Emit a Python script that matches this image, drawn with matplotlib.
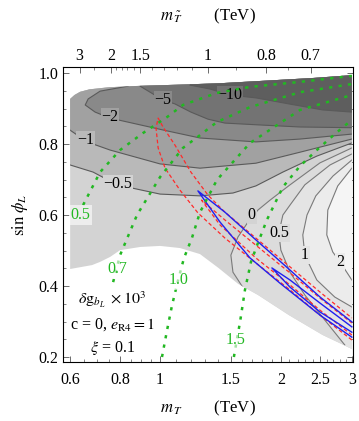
import numpy as np
import matplotlib
matplotlib.use("Agg")
import matplotlib.pyplot as plt
from matplotlib.patches import Polygon
from matplotlib.ticker import NullFormatter, FixedLocator, FixedFormatter

plt.rcParams['font.family'] = ['Liberation Serif', 'DejaVu Serif']
plt.rcParams['mathtext.fontset'] = 'stix'

# ---- data (m_T in TeV, sin phi_L) ----
# domain of the scan (outside is white)
top_m = [0.6, 0.615, 0.635, 0.67, 0.75, 0.9, 1.1, 1.4, 1.8, 2.4, 3.0]
top_s = [0.927, 0.938, 0.947, 0.954, 0.960, 0.964, 0.967, 0.971, 0.978, 0.986, 0.994]
bot_m = [0.6, 0.68, 0.712, 0.754, 0.798, 0.895, 1.003, 1.124, 1.26, 1.40, 1.567, 1.754, 2.095, 2.54, 3.0]
bot_s = [0.448, 0.459, 0.468, 0.482, 0.501, 0.510, 0.513, 0.507, 0.490, 0.451, 0.406, 0.375, 0.318, 0.262, 0.223]

# contours of delta g_bL x 10^3
cm10_m = [1.19, 1.334, 1.496, 1.734, 2.094, 2.541, 3.0]
cm10_s = [0.966, 0.955, 0.938, 0.930, 0.913, 0.896, 0.890]
cm5_m = [0.895, 1.020, 1.092, 1.196, 1.319, 1.453, 1.754, 2.231, 3.0]
cm5_s = [0.963, 0.924, 0.913, 0.890, 0.870, 0.859, 0.854, 0.848, 0.846]
cm2_m = [0.835, 0.712, 0.665, 0.654, 0.692, 0.754, 0.895, 1.044, 1.260, 1.734, 2.231, 3.0]
cm2_s = [0.963, 0.949, 0.927, 0.910, 0.890, 0.873, 0.854, 0.837, 0.817, 0.806, 0.814, 0.828]
cm1_m = [0.6, 0.661, 0.754, 1.003, 1.260, 1.734, 2.231, 3.0]
cm1_s = [0.839, 0.806, 0.783, 0.744, 0.732, 0.746, 0.777, 0.814]
cm05_m = [0.6, 0.684, 0.785, 1.003, 1.260, 1.521, 1.734, 2.023, 2.456, 3.0]
cm05_s = [0.741, 0.721, 0.685, 0.659, 0.654, 0.662, 0.682, 0.721, 0.766, 0.803]
c0_m = [3.0, 2.501, 2.107, 1.880, 1.754, 1.657, 1.565, 1.503, 1.521, 1.638]
c0_s = [0.789, 0.747, 0.685, 0.642, 0.614, 0.580, 0.538, 0.487, 0.439, 0.383]
c05_m = [3.0, 2.648, 2.293, 2.107, 2.023, 1.977, 2.0, 2.107, 2.293, 2.571, 2.881]
c05_s = [0.772, 0.741, 0.685, 0.628, 0.600, 0.549, 0.501, 0.439, 0.375, 0.304, 0.234]
c1_m = [3.0, 2.694, 2.442, 2.322, 2.267, 2.293, 2.456, 2.721, 3.0]
c1_s = [0.755, 0.710, 0.654, 0.600, 0.544, 0.487, 0.417, 0.369, 0.341]
c2_m = [3.0, 2.768, 2.615, 2.600, 2.690, 2.803, 2.914, 3.0]
c2_s = [0.732, 0.682, 0.614, 0.544, 0.496, 0.468, 0.439, 0.417]

neg_levels = ['-0.5', '-1', '-2', '-5', '-10']
pos_levels = ['0', '0.5', '1', '2']
label_m = {'-10': 1.496, '-5': 1.02, '-2': 0.754, '-1': 0.654, '-0.5': 0.789,
           '0': 1.694, '0.5': 1.977, '1': 2.293, '2': 2.803}
label_s = {'-10': 0.938, '-5': 0.924, '-2': 0.876, '-1': 0.811, '-0.5': 0.687,
           '0': 0.600, '0.5': 0.549, '1': 0.487, '2': 0.468}

# green dotted curves
g05_m = [0.646, 0.712, 0.798, 0.910, 1.044, 1.143, 1.388, 1.677, 2.231, 3.0]
g05_s = [0.628, 0.721, 0.783, 0.831, 0.876, 0.910, 0.944, 0.961, 0.975, 0.992]
g07_m = [0.767, 0.798, 0.879, 1.003, 1.143, 1.260, 1.388, 1.677, 2.231, 3.0]
g07_s = [0.411, 0.487, 0.600, 0.707, 0.789, 0.825, 0.862, 0.904, 0.946, 0.969]
g10_m = [1.014, 1.044, 1.074, 1.112, 1.150, 1.203, 1.260, 1.388, 1.677, 2.231, 3.0]
g10_s = [0.200, 0.276, 0.346, 0.417, 0.479, 0.535, 0.608, 0.699, 0.803, 0.896, 0.938]
g15_m = [1.529, 1.555, 1.584, 1.629, 1.686, 1.754, 1.846, 2.023, 2.231, 2.456, 2.721, 3.0]
g15_s = [0.200, 0.248, 0.299, 0.389, 0.468, 0.521, 0.586, 0.679, 0.738, 0.783, 0.828, 0.868]
green_labels = ['0.5', '0.7', '1.0', '1.5']
green_lab_m = [0.635, 0.785, 1.112, 1.547]
green_lab_s = [0.600, 0.448, 0.417, 0.248]

# red dashed and blue solid regions
red1_m = [3.0, 2.501, 2.107, 1.734, 1.453, 1.245, 1.124, 1.032, 0.992, 0.980, 0.992,
          1.020, 1.092, 1.196, 1.319, 1.453, 1.734, 2.107, 2.501, 3.0]
red1_s = [0.248, 0.318, 0.389, 0.465, 0.535, 0.606, 0.670, 0.732, 0.789, 0.845, 0.873,
          0.848, 0.797, 0.721, 0.656, 0.608, 0.535, 0.454, 0.383, 0.310]
red2_m = [3.0, 2.501, 2.107, 1.734, 1.413, 1.271, 1.453, 1.734, 2.107, 2.501, 3.0]
red2_s = [0.262, 0.332, 0.403, 0.479, 0.572, 0.642, 0.586, 0.515, 0.437, 0.366, 0.296]
blue1_m = [3.0, 2.501, 1.990, 1.677, 1.413, 1.245, 1.453, 1.734, 2.107, 2.501, 3.0]
blue1_s = [0.256, 0.318, 0.408, 0.479, 0.580, 0.668, 0.608, 0.530, 0.445, 0.369, 0.299]
blue2_m = [3.0, 2.501, 2.107, 1.900, 2.107, 2.501, 3.0]
blue2_s = [0.270, 0.327, 0.397, 0.451, 0.417, 0.352, 0.285]

# axes ticks
x_ticks = [0.6, 0.8, 1, 1.5, 2, 2.5, 3]
x_ticklabels = ['0.6', '0.8', '1', '1.5', '2', '2.5', '3']
top_vals = [3, 2, 1.5, 1, 0.8, 0.7]
top_pos = [0.633, 0.758, 0.895, 1.319, 1.840, 2.37]
top_minor_vals = [2.5, 1.9, 1.8, 1.7, 1.6, 1.4, 1.3, 1.2, 1.1, 0.9, 0.75]

# ---- colours ----
band_base = '#d3d3d3'
neg_colors = ['#b9b9b9', '#a1a1a1', '#898989', '#737373', '#5e5e5e']
pos_colors = ['#dcdcdc', '#e4e4e4', '#ececec', '#f5f5f5']
green = '#22b822'

fig = plt.figure(figsize=(3.59, 4.21), dpi=100)
ax = fig.add_axes([63 / 359, 59 / 421, 290 / 359, 295 / 421])
ax.set_xscale('log')
ax.set_xlim(0.576, 3.02)
ax.set_ylim(0.186, 1.017)

dom = Polygon(list(zip(top_m, top_s)) + list(zip(bot_m[::-1], bot_s[::-1])),
              closed=True, transform=ax.transData)
ax.fill(top_m + bot_m[::-1], top_s + bot_s[::-1], color=band_base, lw=0, zorder=1)

neg = [(cm05_m, cm05_s), (cm1_m, cm1_s), (cm2_m, cm2_s), (cm5_m, cm5_s), (cm10_m, cm10_s)]
pos = [(c0_m, c0_s), (c05_m, c05_s), (c1_m, c1_s), (c2_m, c2_s)]

for (cm, cs), col in zip(neg, neg_colors):
    x0 = cm[0] if cm[0] > 0.61 else 0.5
    px = list(cm) + [3.4, 3.4, x0, x0]
    py = list(cs) + [cs[-1], 1.2, 1.2, cs[0]]
    p, = ax.fill(px, py, color=col, lw=0, zorder=2)
    p.set_clip_path(dom)

for (cm, cs), col in zip(pos, pos_colors):
    if cm[-1] < 2.9:
        px = list(cm) + [cm[-1], 3.4, 3.4]
        py = list(cs) + [0.1, 0.1, cs[0]]
    else:
        px = list(cm) + [3.4, 3.4]
        py = list(cs) + [cs[-1], cs[0]]
    p, = ax.fill(px, py, color=col, lw=0, zorder=2)
    p.set_clip_path(dom)

for cm, cs in neg:
    ln, = ax.plot(cm, cs, color='#5a5a5a', lw=0.8, zorder=3)
    ln.set_clip_path(dom)
for cm, cs in pos:
    ln, = ax.plot(cm, cs, color='#7a7a7a', lw=0.8, zorder=3)
    ln.set_clip_path(dom)

lab_bg = {'-10': neg_colors[3], '-5': neg_colors[2], '-2': neg_colors[1], '-1': neg_colors[0],
          '-0.5': band_base, '0': band_base, '0.5': pos_colors[0], '1': pos_colors[1],
          '2': pos_colors[2]}
for k in neg_levels + pos_levels:
    ax.text(label_m[k], label_s[k], k.replace('-', '\u2212'), fontsize=11.5,
            ha='center', va='center', zorder=4,
            bbox=dict(boxstyle='square,pad=0.05', fc=lab_bg[k], ec='none'))

for cm, cs in [(red1_m, red1_s), (red2_m, red2_s)]:
    ax.plot(cm, cs, color='#ff2a2a', lw=0.9, ls=(0, (3, 2)), zorder=5)
for cm, cs in [(blue1_m, blue1_s), (blue2_m, blue2_s)]:
    ax.plot(cm, cs, color='#2020f0', lw=1.0, zorder=5)

for cm, cs in [(g05_m, g05_s), (g07_m, g07_s), (g10_m, g10_s), (g15_m, g15_s)]:
    ax.plot(cm, cs, color=green, lw=1.8, ls=(0, (1.3, 2.5)), zorder=6)
for t, xm, ys in zip(green_labels, green_lab_m, green_lab_s):
    ax.text(xm, ys, t, color=green, fontsize=11.5, ha='center', va='center', zorder=7,
            bbox=dict(boxstyle='square,pad=0.1', fc='white', ec='none', alpha=0.6))

ax.text(0.765, 0.361, r'$\delta\mathrm{g}_{b_L}\ \times 10^3$', fontsize=11.5, ha='center', va='center')
ax.text(0.765, 0.290, r'c = 0, $e_{\mathrm{R4}} = 1$', fontsize=11.5, ha='center', va='center')
ax.text(0.765, 0.226, r'$\xi$ = 0.1', fontsize=11.5, ha='center', va='center')

# axes styling
minor_x = [v for v in np.round(np.concatenate([np.arange(0.6, 1.0, 0.05), np.arange(1.0, 3.01, 0.1)]), 2)
           if v not in x_ticks]
ax.xaxis.set_major_locator(FixedLocator(x_ticks))
ax.xaxis.set_major_formatter(FixedFormatter(x_ticklabels))
ax.xaxis.set_minor_locator(FixedLocator(minor_x))
ax.xaxis.set_minor_formatter(NullFormatter())
ax.set_yticks([0.2, 0.4, 0.6, 0.8, 1.0])
ax.set_yticklabels(['0.2', '0.4', '0.6', '0.8', '1.0'])
ax.set_yticks(np.arange(0.2, 1.01, 0.05), minor=True)
ax.tick_params(which='both', direction='in', top=False, right=True, labelsize=11.5,
               color='#555555')
ax.tick_params(which='major', length=4.5, width=0.6)
ax.tick_params(which='minor', length=2.5, width=0.5)
ax.tick_params(axis='x', pad=7)
for sp in ax.spines.values():
    sp.set_color('#555555')
    sp.set_linewidth(0.7)

ax2 = ax.twiny()
ax2.set_xscale('log')
ax2.set_xlim(ax.get_xlim())
lp = np.log(top_pos)
lv = np.log(top_vals)
ax2.xaxis.set_major_locator(FixedLocator(top_pos))
ax2.xaxis.set_major_formatter(FixedFormatter([str(v) for v in top_vals]))
ax2.xaxis.set_minor_locator(FixedLocator(np.exp(np.interp(-np.log(top_minor_vals), -lv, lp))))
ax2.xaxis.set_minor_formatter(NullFormatter())
ax2.tick_params(which='both', direction='in', labelsize=11.5, color='#555555', pad=2)
ax2.tick_params(which='major', length=4.5, width=0.6)
ax2.tick_params(which='minor', length=2.5, width=0.5)

ax.set_xlabel(r'$m_{\,T}$        (TeV)', fontsize=12, labelpad=8)
ax.set_ylabel(r'$\sin\,\phi_L$', fontsize=12, labelpad=6)
ax2.set_xlabel(r'$m_{\,\tilde{T}}$        (TeV)', fontsize=12, labelpad=20)

fig.savefig('out.png', dpi=100)
